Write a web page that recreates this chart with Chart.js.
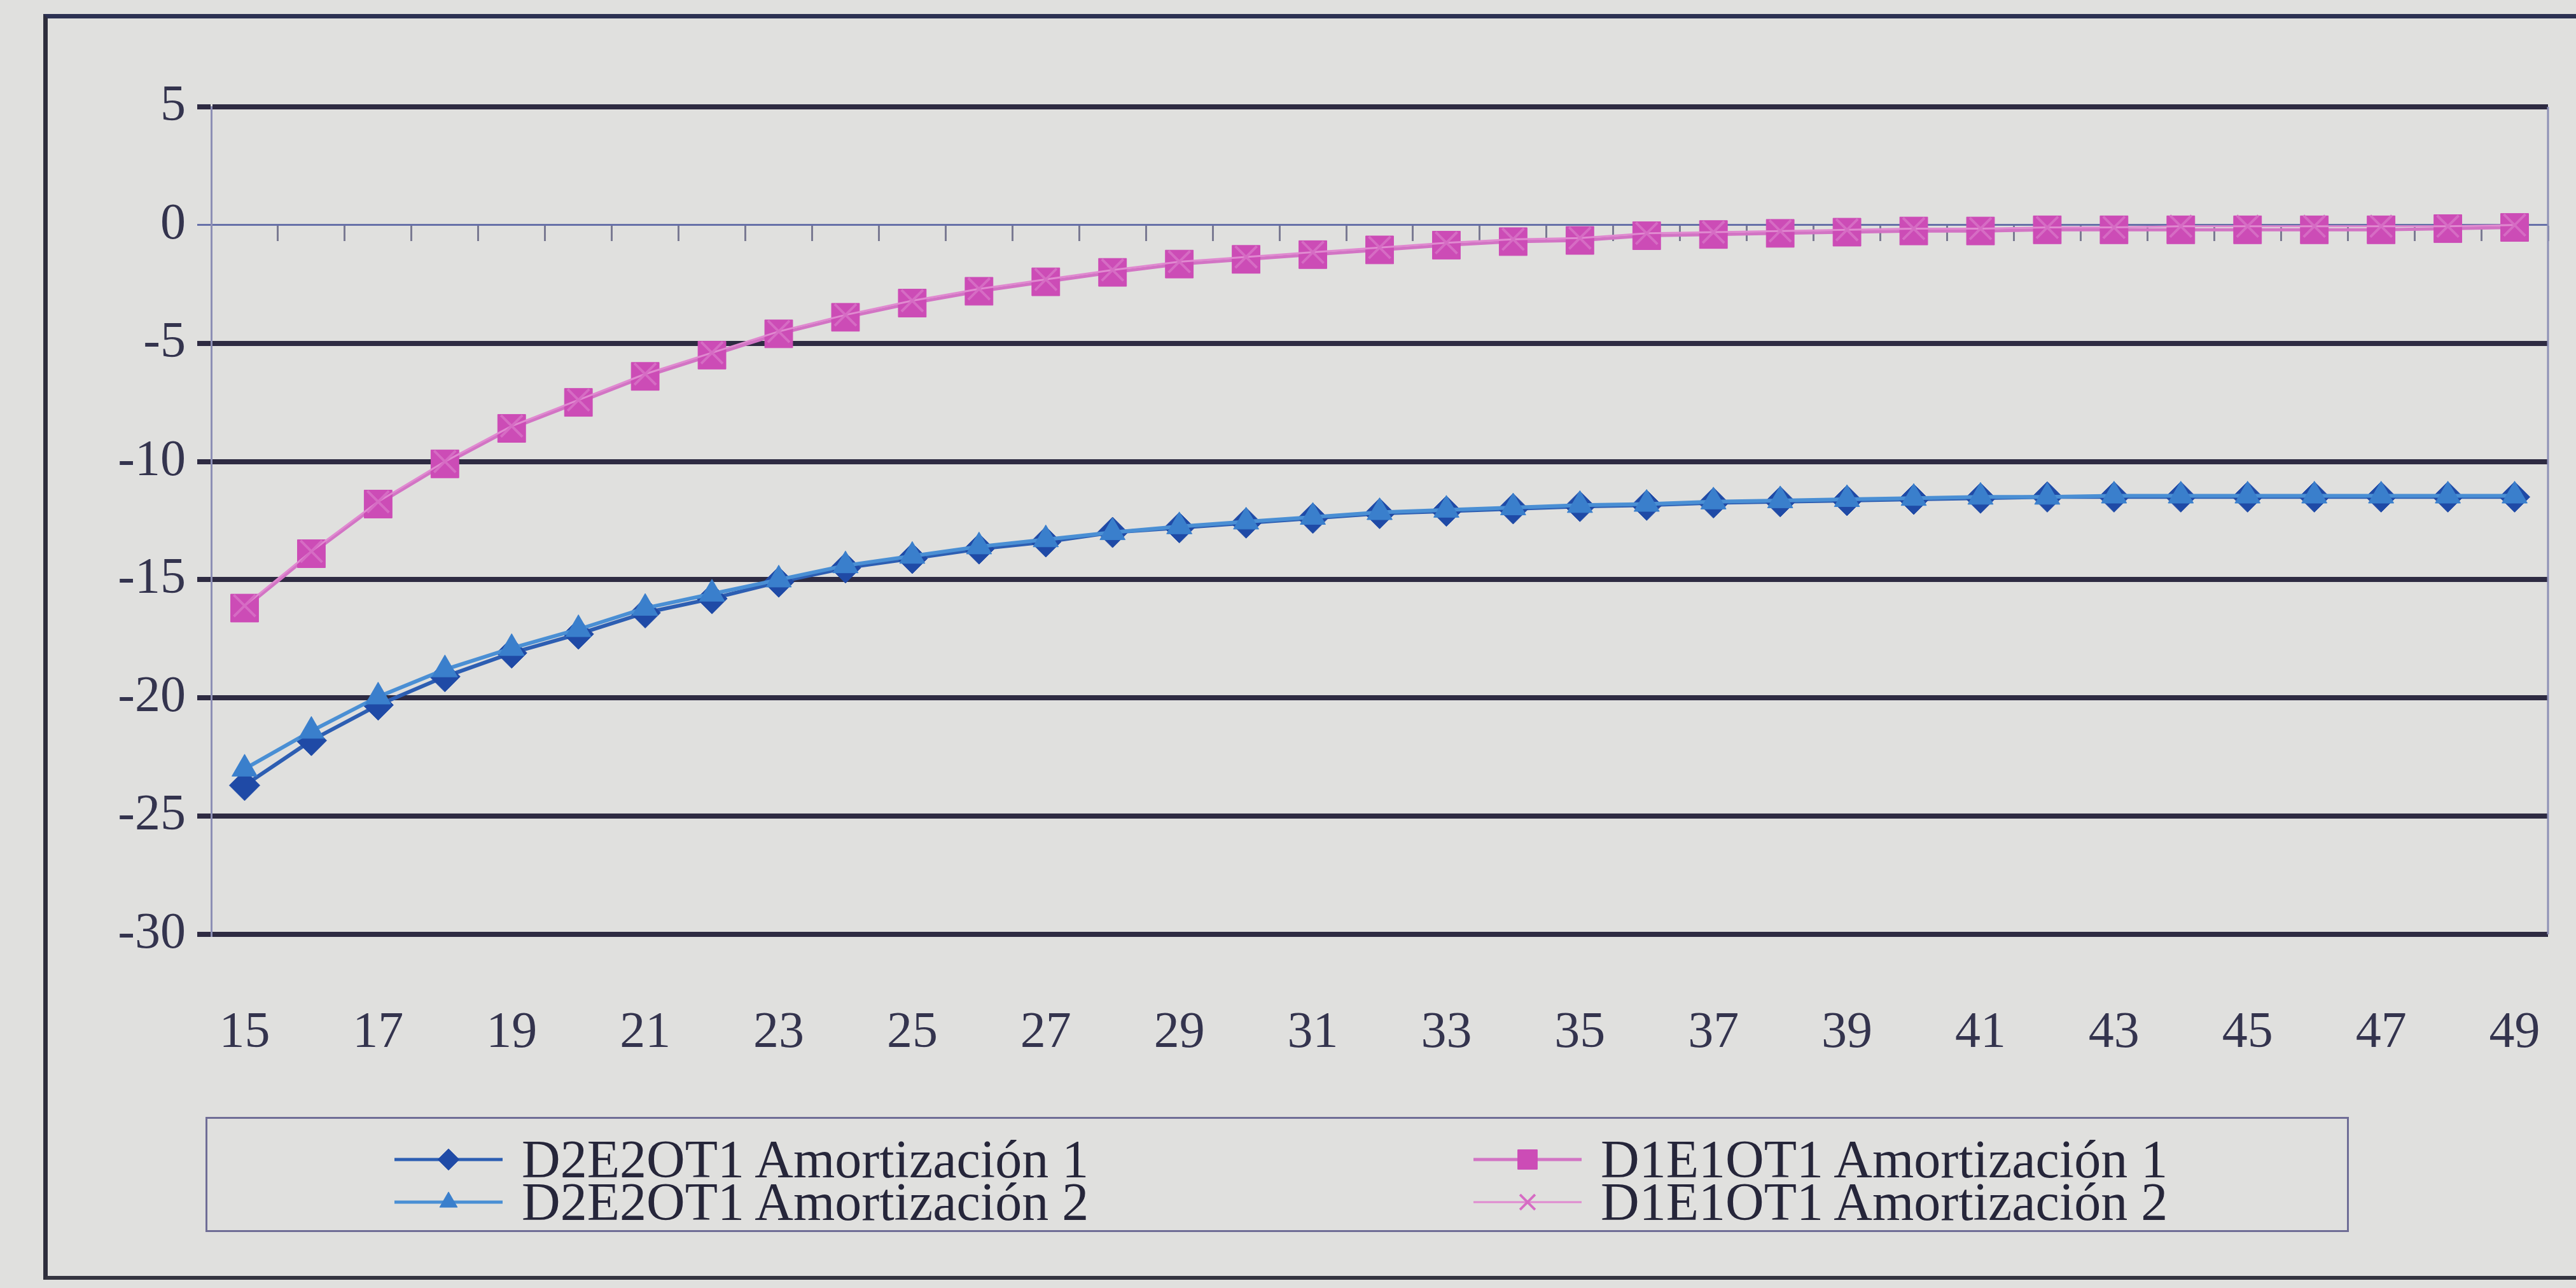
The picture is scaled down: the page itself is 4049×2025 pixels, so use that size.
<!DOCTYPE html>
<html>
<head>
<meta charset="utf-8">
<script src="https://cdn.jsdelivr.net/npm/chart.js@4.4.0/dist/chart.umd.min.js"></script>
<style>
  body { margin: 0; width: 4049px; height: 2025px; background: #e0e0de; overflow: hidden; position: relative; font-family: "Liberation Serif", serif; }
  #frame { position: absolute; left: 68px; top: 22px; width: 4100px; height: 1990px; box-sizing: border-box;
           border-left: 7px solid #2e2e3c; border-top: 7px solid #2c3152; border-bottom: 6px solid #34343f; }
  #chartBox { position: absolute; left: 0; top: 0; width: 4049px; height: 1720px; }
  #legendBox { position: absolute; left: 323px; top: 1756px; width: 3369px; height: 181px; box-sizing: border-box;
               border: 3px solid #6f6d96; display: grid; grid-template-columns: 1696px 1696px; grid-auto-rows: 67px;
               padding-left: 294px; padding-top: 30px; }
  .legendItem { display: flex; align-items: center; height: 67px; }
  .legendItem span { margin-left: 30px; font-size: 84px; line-height: 67px; color: #26263a; white-space: nowrap; }
</style>
</head>
<body>
<div id="frame"></div>
<div id="chartBox"><canvas id="amortChart" width="4049" height="1720"></canvas></div>
<div id="legendBox"></div>
<script>
// x categories (age) and the labels that are actually printed under the axis
const ages = ["15","16","17","18","19","20","21","22","23","24","25","26","27","28","29","30","31","32",
              "33","34","35","36","37","38","39","40","41","42","43","44","45","46","47","48","49"];
const shownAges = ["15","17","19","21","23","25","27","29","31","33","35","37","39","41","43","45","47","49"];
const yTickValues = [5, 0, -5, -10, -15, -20, -25, -30];

// values
const d2e2Amort1 = [-23.7, -21.8, -20.3, -19.1, -18.1, -17.3, -16.4, -15.8, -15.1, -14.5, -14.1, -13.7, -13.4, -13.0,
                    -12.8, -12.6, -12.4, -12.2, -12.1, -12.0, -11.9, -11.85, -11.75, -11.7, -11.65, -11.6, -11.55,
                    -11.5, -11.5, -11.5, -11.5, -11.5, -11.5, -11.5, -11.5];
const d2e2Amort2 = [-23.0, -21.4, -19.95, -18.8, -17.9, -17.1, -16.2, -15.6, -15.0, -14.4, -14.0, -13.6, -13.3, -13.0,
                    -12.75, -12.55, -12.35, -12.15, -12.05, -11.95, -11.85, -11.8, -11.7, -11.65, -11.6, -11.55, -11.5,
                    -11.5, -11.45, -11.45, -11.45, -11.45, -11.45, -11.45, -11.45];
const d1e1Amort1 = [-16.2, -13.9, -11.8, -10.1, -8.6, -7.5, -6.4, -5.5, -4.6, -3.9, -3.3, -2.8, -2.4, -2.0,
                    -1.65, -1.45, -1.25, -1.05, -0.85, -0.7, -0.65, -0.45, -0.4, -0.35, -0.3, -0.25, -0.25,
                    -0.2, -0.2, -0.2, -0.2, -0.2, -0.2, -0.15, -0.1];
const d1e1Amort2 = [-16.1, -13.8, -11.7, -10.0, -8.5, -7.4, -6.3, -5.4, -4.5, -3.8, -3.2, -2.7, -2.3, -1.9,
                    -1.55, -1.35, -1.15, -0.95, -0.75, -0.6, -0.55, -0.35, -0.3, -0.25, -0.2, -0.15, -0.15,
                    -0.1, -0.1, -0.05, -0.05, -0.05, -0.05, -0.05, 0.0];

const seriesNames = ["D2E2OT1 Amortización 1", "D2E2OT1 Amortización 2", "D1E1OT1 Amortización 1", "D1E1OT1 Amortización 2"];

class AmortChart {

    static onLoadFunctions() {
        const chart = AmortChart.createChart()
        AmortChart.createLegend(chart)
    }

    static createChart() {
        Chart.defaults.font.family = '"Liberation Serif", "Times New Roman", serif';
        Chart.defaults.color = "#34344a";

        // thin frame line on the right side of the plot area
        const plotEdge = {
            id: "plotEdge",
            beforeDatasetsDraw(chart) {
                const a = chart.chartArea, ctx = chart.ctx;
                ctx.save();
                ctx.strokeStyle = "#8d8fb5";
                ctx.lineWidth = 3;
                ctx.beginPath();
                ctx.moveTo(a.right, a.top);
                ctx.lineTo(a.right, a.bottom);
                ctx.stroke();
                ctx.restore();
            }
        };

        return new Chart("amortChart", {
            type: "line",
            data: {
                labels: ages,
                datasets: [{
                    label: seriesNames[0], data: d2e2Amort1, order: 3,
                    borderColor: "#2d5eb2", borderWidth: 6,
                    pointStyle: "rectRot", pointRadius: 24, pointBackgroundColor: "#1f4aa6", pointBorderColor: "#1f4aa6", pointBorderWidth: 1
                }, {
                    label: seriesNames[1], data: d2e2Amort2, order: 2,
                    borderColor: "#4a8fd4", borderWidth: 6,
                    pointStyle: "triangle", pointRadius: 23, pointBackgroundColor: "#3a7fcc", pointBorderColor: "#3a7fcc", pointBorderWidth: 1
                }, {
                    label: seriesNames[2], data: d1e1Amort1, order: 1,
                    borderColor: "#d274c4", borderWidth: 5,
                    pointStyle: "rect", pointRadius: 31, pointBackgroundColor: "#cc4cb6", pointBorderColor: "#cc4cb6", pointBorderWidth: 1
                }, {
                    label: seriesNames[3], data: d1e1Amort2, order: 0,
                    borderColor: "#e08ad0", borderWidth: 3,
                    pointStyle: "crossRot", pointRadius: 24, pointBackgroundColor: "#d66cc4", pointBorderColor: "#d66cc4", pointBorderWidth: 4
                }]
            },
            options: {
                responsive: false,
                animation: false,
                devicePixelRatio: 1,
                layout: { autoPadding: false, padding: { top: 168, right: 44, bottom: 0, left: 0 } },
                plugins: { legend: { display: false }, tooltip: { enabled: false } },
                elements: { line: { tension: 0 } },
                scales: {
                    x: {
                        type: "category",
                        offset: true,
                        // hidden tick length pushes the labels down without widening the side padding
                        grid: { display: false, drawTicks: true, tickLength: 100 },
                        border: { display: false },
                        ticks: {
                            autoSkip: false, maxRotation: 0, padding: 8,
                            font: { size: 80 }, color: "#34344e",
                            callback: function (value, index) {
                                const lab = this.getLabelForValue(value);
                                return shownAges.includes(lab) ? lab : "";
                            }
                        },
                        afterFit(scale) { scale.height = 251; }
                    },
                    // axis line through zero carrying the small tick marks
                    x0: {
                        type: "category",
                        position: { y: 0 },
                        offset: true,
                        grid: { drawOnChartArea: false, offset: true, tickLength: 24, tickWidth: 3, tickColor: "#7a7a92" },
                        border: { display: true, color: "#6670a8", width: 3 },
                        ticks: { display: false, autoSkip: false }
                    },
                    y: {
                        min: -30, max: 5,
                        afterBuildTicks(scale) { scale.ticks = yTickValues.map(v => ({ value: v })); },
                        afterFit(scale) { scale.width = 332; },
                        grid: {
                            color: ctx => (ctx.tick && ctx.tick.value === 0) ? "#6670a8" : "#2e2b42",
                            lineWidth: ctx => (ctx.tick && ctx.tick.value === 0) ? 3 : 8,
                            tickLength: 22
                        },
                        border: { display: true, color: "#8d8fb5", width: 3 },
                        ticks: { padding: 18, font: { size: 80 }, color: "#34344e" }
                    }
                }
            },
            plugins: [plotEdge]
        });
    }

    // legend drawn as html, two columns like the printed one
    static createLegend(chart) {
        const box = document.getElementById("legendBox");
        const order = [0, 2, 1, 3];
        for (const i of order) {
            const ds = chart.data.datasets[i];
            const item = document.createElement("div");
            item.className = "legendItem";
            const c = document.createElement("canvas");
            c.width = 170; c.height = 60;
            const ctx = c.getContext("2d");
            ctx.strokeStyle = ds.borderColor;
            ctx.lineWidth = Math.min(ds.borderWidth, 5);
            ctx.beginPath(); ctx.moveTo(0, 30); ctx.lineTo(170, 30); ctx.stroke();
            ctx.fillStyle = ds.pointBackgroundColor;
            ctx.strokeStyle = ds.pointBorderColor;
            ctx.lineWidth = ds.pointBorderWidth;
            Chart.helpers.drawPoint(ctx, { pointStyle: ds.pointStyle, radius: ds.pointRadius * 0.7, rotation: 0, borderWidth: ds.pointBorderWidth }, 85, 30);
            const txt = document.createElement("span");
            txt.textContent = ds.label;
            item.appendChild(c);
            item.appendChild(txt);
            box.appendChild(item);
        }
    }
}

AmortChart.onLoadFunctions();
</script>
</body>
</html>
